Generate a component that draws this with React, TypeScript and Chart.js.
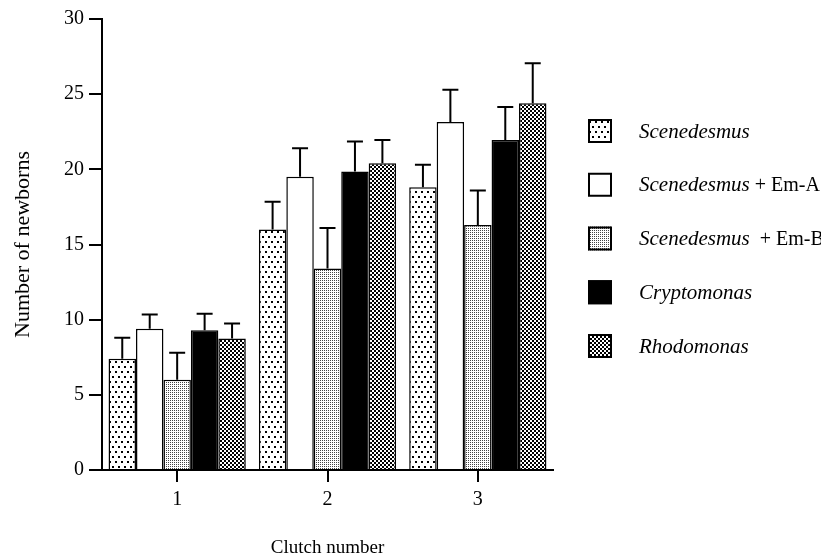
import React, { useEffect, useRef } from 'react';
import { Chart, registerables } from 'chart.js';

Chart.register(...registerables);

// ---- data ----
const clutchNumbers = ['1', '2', '3'];
const yTickMax = 30;
const yTickStep = 5;

const scenedesmus = [7.4, 16.0, 18.8];
const scenedesmusErr = [1.4, 1.85, 1.5];
const emA = [9.4, 19.5, 23.15];
const emAErr = [0.95, 1.9, 2.15];
const emB = [6.0, 13.4, 16.3];
const emBErr = [1.8, 2.7, 2.3];
const cryptomonas = [9.3, 19.85, 21.95];
const cryptomonasErr = [1.1, 2.0, 2.2];
const rhodomonas = [8.75, 20.4, 24.4];
const rhodomonasErr = [1.0, 1.55, 2.65];

const legendItalic = ['Scenedesmus', 'Scenedesmus', 'Scenedesmus', 'Cryptomonas', 'Rhodomonas'];
const legendRoman = ['', ' + Em-A', '  + Em-B', '', ''];

const FONT = '"Liberation Serif", "Times New Roman", serif';

type Kind = 'dots' | 'white' | 'stipple' | 'black' | 'checker';

function makePattern(kind: Kind): CanvasPattern | string {
  if (kind === 'white') return '#ffffff';
  if (kind === 'black') return '#000000';
  const c = document.createElement('canvas');
  const ctx = c.getContext('2d')!;
  if (kind === 'dots') {
    c.width = 6; c.height = 10;
    ctx.fillStyle = '#fff'; ctx.fillRect(0, 0, 6, 10);
    ctx.fillStyle = '#000';
    ctx.fillRect(1, 1, 2, 2);
    ctx.fillRect(4, 6, 2, 2);
  } else if (kind === 'stipple') {
    c.width = 2; c.height = 2;
    ctx.fillStyle = '#fff'; ctx.fillRect(0, 0, 2, 2);
    ctx.fillStyle = '#444';
    ctx.fillRect(0, 0, 1, 1);
  } else {
    c.width = 4; c.height = 4;
    ctx.fillStyle = '#fff'; ctx.fillRect(0, 0, 4, 4);
    ctx.fillStyle = '#000';
    ctx.fillRect(0, 0, 2, 2);
    ctx.fillRect(2, 2, 2, 2);
  }
  return ctx.createPattern(c, 'repeat')!;
}

const kinds: Kind[] = ['dots', 'white', 'stipple', 'black', 'checker'];
const values = [scenedesmus, emA, emB, cryptomonas, rhodomonas];
const errors = [scenedesmusErr, emAErr, emBErr, cryptomonasErr, rhodomonasErr];

export default function App() {
  const ref = useRef<HTMLCanvasElement | null>(null);

  useEffect(() => {
    if (!ref.current) return;
    const fills = kinds.map(makePattern);

    const errorBars = {
      id: 'errorBars',
      afterDatasetsDraw(chart: any) {
        const ctx = chart.ctx;
        const ys = chart.scales.y;
        ctx.save();
        ctx.strokeStyle = '#000';
        ctx.lineWidth = 2;
        chart.data.datasets.forEach((ds: any, i: number) => {
          const meta = chart.getDatasetMeta(i);
          meta.data.forEach((bar: any, j: number) => {
            const v = ds.data[j];
            const e = errors[i][j];
            const yTop = ys.getPixelForValue(v);
            const yCap = ys.getPixelForValue(v + e);
            ctx.beginPath();
            ctx.moveTo(bar.x, yTop);
            ctx.lineTo(bar.x, yCap);
            ctx.moveTo(bar.x - 8, yCap);
            ctx.lineTo(bar.x + 8, yCap);
            ctx.stroke();
          });
        });
        ctx.restore();
      },
    };

    const legendPlugin = {
      id: 'customLegend',
      afterDraw(chart: any) {
        const ctx = chart.ctx;
        const x0 = chart.chartArea.right + 35;
        ctx.save();
        legendItalic.forEach((name, i) => {
          const cy = 131 + i * 53.75;
          ctx.fillStyle = fills[i];
          ctx.fillRect(x0, cy - 12, 24, 24);
          ctx.strokeStyle = '#000';
          ctx.lineWidth = 2;
          ctx.strokeRect(x0 + 1, cy - 11, 22, 22);
          ctx.fillStyle = '#000';
          ctx.textBaseline = 'middle';
          ctx.textAlign = 'left';
          ctx.font = `italic 21px ${FONT}`;
          const tx = x0 + 51;
          ctx.fillText(name, tx, cy + 1);
          const w = ctx.measureText(name).width;
          if (legendRoman[i]) {
            ctx.font = `20px ${FONT}`;
            ctx.fillText(legendRoman[i], tx + w, cy + 1);
          }
        });
        ctx.restore();
      },
    };

    const chart = new Chart(ref.current, {
      type: 'bar',
      data: {
        labels: clutchNumbers,
        datasets: values.map((vals, i) => ({
          label: legendItalic[i] + legendRoman[i],
          data: vals,
          backgroundColor: fills[i] as any,
          borderColor: '#000',
          borderWidth: 1.5,
          barPercentage: 1,
          categoryPercentage: 0.913,
        })),
      },
      options: {
        animation: false,
        responsive: false,
        maintainAspectRatio: false,
        layout: { padding: { left: 0, right: 268, top: 19, bottom: 0 } },
        plugins: {
          legend: { display: false },
          tooltip: { enabled: false },
        },
        scales: {
          x: {
            grid: {
              display: true,
              drawOnChartArea: false,
              drawTicks: true,
              tickLength: 12,
              offset: false,
              color: '#000',
              lineWidth: 2,
            },
            border: { display: true, color: '#000', width: 2 },
            ticks: { color: '#000', font: { family: FONT, size: 20 }, padding: 6 },
            title: {
              display: true,
              text: 'Clutch number',
              color: '#000',
              font: { family: FONT, size: 19 },
              padding: { top: 0, bottom: 1 },
            },
            afterFit: (s: any) => { s.height = 90; },
          },
          y: {
            min: 0,
            max: yTickMax,
            grid: {
              display: true,
              drawOnChartArea: false,
              drawTicks: true,
              tickLength: 13,
              color: '#000',
              lineWidth: 2,
            },
            border: { display: true, color: '#000', width: 2 },
            ticks: { stepSize: yTickStep, color: '#000', font: { family: FONT, size: 20 }, padding: 5 },
            title: {
              display: true,
              text: 'Number of newborns',
              color: '#000',
              font: { family: FONT, size: 22 },
              padding: { top: 10, bottom: 0 },
            },
            afterFit: (s: any) => { s.width = 102; },
          },
        },
      },
      plugins: [errorBars, legendPlugin],
    });
    return () => chart.destroy();
  }, []);

  return (
    <div style={{ position: 'fixed', left: 0, top: 0, width: 821, height: 560, background: '#fff' }}>
      <canvas ref={ref} width={821} height={560} style={{ width: 821, height: 560, display: 'block' }} />
    </div>
  );
}
